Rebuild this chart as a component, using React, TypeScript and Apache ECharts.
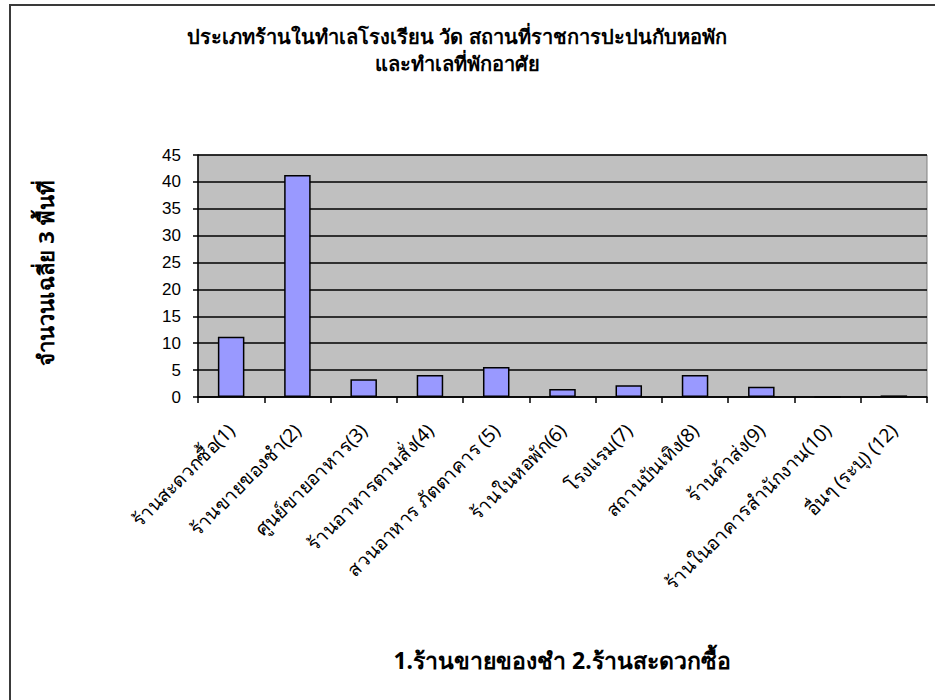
import React, { useEffect, useRef } from "react";
import * as echarts from "echarts";

const categories = [
  "ร้านสะดวกซื้อ(1)",
  "ร้านขายของชำ(2)",
  "ศูนย์ขายอาหาร(3)",
  "ร้านอาหารตามสั่ง(4)",
  "สวนอาหาร ภัตตาคาร (5)",
  "ร้านในหอพัก(6)",
  "โรงแรม(7)",
  "สถานบันเทิง(8)",
  "ร้านค้าส่ง(9)",
  "ร้านในอาคารสำนักงาน(10)",
  "อื่นๆ (ระบุ) (12)",
];
const values = [11.2, 41.3, 3.3, 4.1, 5.6, 1.5, 2.2, 4.1, 1.9, 0, 0.3];
const titleLine1 = "ประเภทร้านในทำเลโรงเรียน วัด สถานที่ราชการปะปนกับหอพัก";
const titleLine2 = "และทำเลที่พักอาศัย";
const yAxisTitle = "จำนวนเฉลี่ย 3 พื้นที่";
const xAxisTitle = "1.ร้านขายของชำ 2.ร้านสะดวกซื้อ";

const FONT = "'Noto Sans', 'DejaVu Sans', sans-serif";

export default function App() {
  const ref = useRef<HTMLDivElement>(null);
  useEffect(() => {
    if (!ref.current) return;
    const chart = echarts.init(ref.current, null, { renderer: "svg" });
    chart.setOption({
      animation: false,
      backgroundColor: "#ffffff",
      textStyle: { fontFamily: FONT },
      graphic: [
        {
          type: "rect",
          shape: { x: 10, y: 5, width: 940, height: 710 },
          style: { fill: "none", stroke: "#3a3a3a", lineWidth: 2 },
          silent: true,
        },
        {
          type: "text",
          x: 457,
          y: 36,
          style: {
            text: titleLine1,
            align: "center",
            verticalAlign: "middle",
            font: `bold 20px ${FONT}`,
            fill: "#000",
          },
        },
        {
          type: "text",
          x: 457,
          y: 63,
          style: {
            text: titleLine2,
            align: "center",
            verticalAlign: "middle",
            font: `bold 20px ${FONT}`,
            fill: "#000",
          },
        },
        {
          type: "text",
          x: 45,
          y: 273,
          rotation: Math.PI / 2,
          style: {
            text: yAxisTitle,
            align: "center",
            verticalAlign: "middle",
            font: `bold 22px ${FONT}`,
            fill: "#000",
          },
        },
        {
          type: "text",
          x: 562,
          y: 660,
          style: {
            text: xAxisTitle,
            align: "center",
            verticalAlign: "middle",
            font: `bold 23px ${FONT}`,
            fill: "#000",
          },
        },
      ],
      grid: {
        left: 198,
        top: 155,
        width: 729,
        height: 242,
        show: true,
        backgroundColor: "#c0c0c0",
        borderColor: "#808080",
        borderWidth: 1,
      },
      xAxis: {
        type: "category",
        data: categories,
        boundaryGap: true,
        axisLine: { lineStyle: { color: "#000", width: 1.5 } },
        axisTick: { show: true, alignWithLabel: false, length: 6, lineStyle: { color: "#000", width: 1.5 } },
        axisLabel: {
          interval: 0,
          rotate: 45,
          margin: 30,
          fontSize: 19,
          color: "#000",
          fontFamily: FONT,
        },
      },
      yAxis: {
        type: "value",
        min: 0,
        max: 45,
        interval: 5,
        axisLine: { show: true, lineStyle: { color: "#000", width: 1.5 } },
        axisTick: { show: true, length: 5, lineStyle: { color: "#000", width: 1.5 } },
        axisLabel: { fontSize: 17, color: "#000", margin: 17, fontFamily: "'Liberation Sans', Arial, sans-serif" },
        splitLine: { show: true, lineStyle: { color: "#000", width: 1.5 } },
      },
      series: [
        {
          type: "bar",
          data: values,
          barWidth: "40%",
          itemStyle: { color: "#9999ff", borderColor: "#000", borderWidth: 1.5 },
        },
      ],
    });
    return () => chart.dispose();
  }, []);
  return (
    <div
      ref={ref}
      style={{ position: "fixed", left: 0, top: 0, width: 935, height: 700 }}
    />
  );
}
